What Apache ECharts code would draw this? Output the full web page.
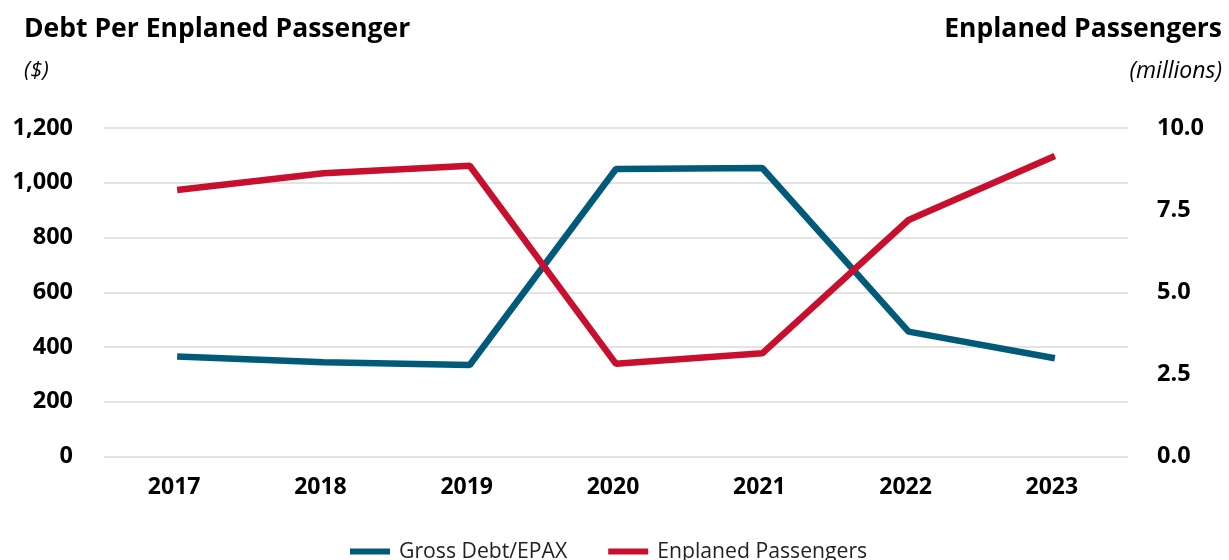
<!DOCTYPE html>
<html>
<head>
<meta charset="utf-8">
<script src="https://cdn.jsdelivr.net/npm/echarts@6/dist/echarts.min.js"></script>
<style>
  html, body { margin: 0; padding: 0; background: #ffffff; }
  #chart { width: 1229px; height: 560px; }
</style>
</head>
<body>
<div id="chart"></div>
<script>
const years = ['2017', '2018', '2019', '2020', '2021', '2022', '2023'];
const grossDebtPerEpax = [365, 344, 334, 1050, 1054, 456, 359];
const enplanedPassengers = [8.11, 8.62, 8.85, 2.82, 3.14, 7.20, 9.15];
const leftTicks = { min: 0, max: 1200, interval: 200 };
const rightTicks = { min: 0, max: 10, interval: 2.5 };

const FONT = '"Open Sans", "Noto Sans", sans-serif';
const chart = echarts.init(document.getElementById('chart'));
chart.setOption({
  backgroundColor: '#ffffff',
  animation: false,
  title: [
    { text: 'Debt Per Enplaned Passenger', left: 19, top: 11,
      textStyle: { fontFamily: FONT, fontSize: 26.5, fontWeight: 'bold', color: '#000' } },
    { text: '($)', left: 19, top: 55,
      textStyle: { fontFamily: FONT, fontSize: 22, fontStyle: 'italic', fontWeight: 'normal', color: '#000' } },
    { text: 'Enplaned Passengers', right: 2, top: 11,
      textStyle: { fontFamily: FONT, fontSize: 26.5, fontWeight: 'bold', color: '#000' } },
    { text: '(millions)', right: 2, top: 55,
      textStyle: { fontFamily: FONT, fontSize: 23, fontStyle: 'italic', fontWeight: 'normal', color: '#000' } }
  ],
  legend: {
    bottom: -7,
    left: 345,
    icon: 'rect',
    itemWidth: 40,
    itemHeight: 6,
    itemGap: 41,
    textStyle: { fontFamily: FONT, fontSize: 21.2, color: '#222', padding: [0, 0, 0, 4] },
    data: ['Gross Debt/EPAX', 'Enplaned Passengers']
  },
  grid: { left: 104, right: 101, top: 128, bottom: 103.5, containLabel: false },
  xAxis: {
    type: 'category',
    data: years,
    boundaryGap: true,
    axisLine: { show: false },
    axisTick: { show: false },
    axisLabel: { margin: 19, fontFamily: FONT, fontSize: 23, fontWeight: 'bold', color: '#000',
      padding: [0, 6, 0, 0] }
  },
  yAxis: [
    {
      type: 'value', min: leftTicks.min, max: leftTicks.max, interval: leftTicks.interval,
      axisLine: { show: false }, axisTick: { show: false },
      splitLine: { show: true, lineStyle: { color: '#e3e3e3', width: 2 } },
      axisLabel: { margin: 31, fontFamily: FONT, fontSize: 23.5, fontWeight: 'bold', color: '#000',
        formatter: v => v.toLocaleString('en-US') }
    },
    {
      type: 'value', min: rightTicks.min, max: rightTicks.max, interval: rightTicks.interval,
      axisLine: { show: false }, axisTick: { show: false },
      splitLine: { show: false },
      axisLabel: { margin: 29, fontFamily: FONT, fontSize: 23.5, fontWeight: 'bold', color: '#000',
        formatter: v => v.toFixed(1) }
    }
  ],
  series: [
    {
      name: 'Gross Debt/EPAX', type: 'line', yAxisIndex: 0, data: grossDebtPerEpax,
      symbol: 'none', smooth: false, color: '#005A78',
      lineStyle: { width: 6.5, color: '#005A78' }
    },
    {
      name: 'Enplaned Passengers', type: 'line', yAxisIndex: 1, data: enplanedPassengers,
      symbol: 'none', smooth: false, color: '#C8102E',
      lineStyle: { width: 6.5, color: '#C8102E' }
    }
  ]
});
</script>
</body>
</html>
